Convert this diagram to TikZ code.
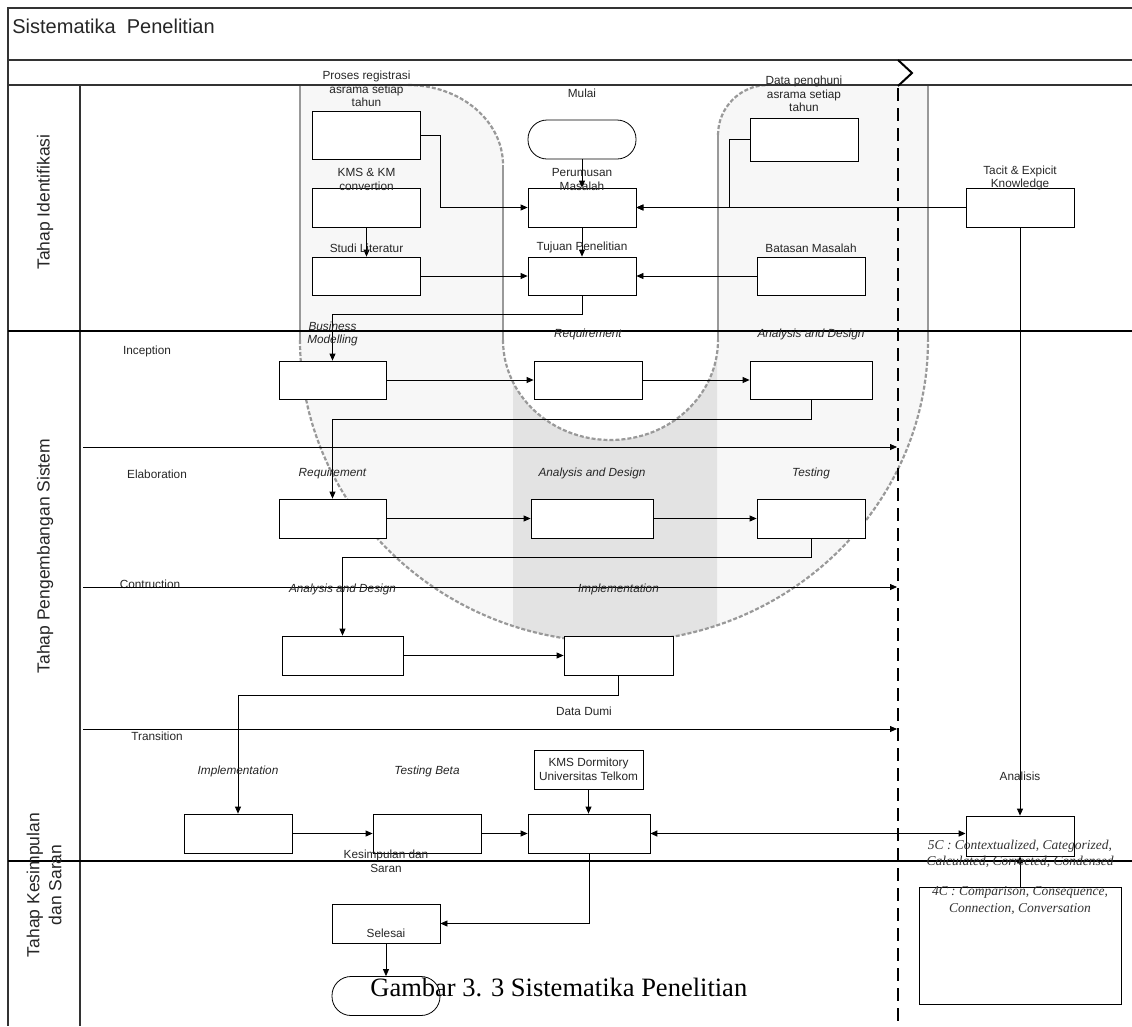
\documentclass[tikz,border=0pt]{standalone}
\usepackage{fontspec}
\setmainfont{Liberation Sans}
\newfontfamily\timesfont{Liberation Serif}
\usepackage{tikz}
\usetikzlibrary{arrows.meta,shapes,calc}
\usetikzlibrary{positioning}
\tikzset{
	task box/.style={rectangle,draw=black,line width=0.8pt,fill=white,minimum width=108pt,minimum height=39pt,inner sep=0pt},
	end state/.style={rectangle,rounded corners=19pt,draw=black,line width=0.8pt,fill=white,minimum width=108pt,minimum height=39pt,inner sep=0pt},
	}

\begin{document}
\begin{tikzpicture}[x=1pt,y=1pt,>={Triangle[length=7pt,width=6pt]},line width=0.8pt]
		
		\tikzstyle{every node}=[font=\fontsize{11.8}{13.5}\selectfont,text=black!85]
		\tikzstyle{step label}=[inner sep=0pt,align=center]
		\tikzstyle{phase label}=[inner sep=0pt,align=center,font=\fontsize{11.8}{13.5}\selectfont\itshape]
		\tikzstyle{lane label}=[inner sep=0pt,align=center,rotate=90,font=\fontsize{17.5}{22}\selectfont]
		\tikzstyle{note text}=[inner sep=0pt,align=center,text=black!80,font=\fontsize{13.5}{16.5}\selectfont\timesfont\itshape]
		\tikzstyle{flow}=[->,black]
		\tikzstyle{frame line}=[line width=1.3pt,black!80]
		\tikzstyle{lobe edge}=[line width=2.2pt,black!40]
		
		\useasboundingbox (0,0) rectangle (1132,-1026);
		
		% shaded lobes
		\fill[black!3] (300,-85) -- (300,-340) arc[start angle=180,end angle=360,x radius=314,y radius=302] -- (928,-85) -- cycle;
		\begin{scope}
			\clip (513,-340) rectangle (717,-660);
			\fill[black!11] (300,-85) -- (300,-340) arc[start angle=180,end angle=360,x radius=314,y radius=302] -- (928,-85) -- cycle;
		\end{scope}
		\fill[white] (408,-85) arc[start angle=90,end angle=0,x radius=95,y radius=80] -- (503,-340)
			arc[start angle=180,end angle=360,x radius=107.5,y radius=100] -- (718,-135)
			arc[start angle=180,end angle=90,x radius=50,y radius=50] -- cycle;
		\draw[lobe edge] (300,-85) -- (300,-340) (928,-85) -- (928,-340)
			(503,-165) -- (503,-340) (718,-135) -- (718,-340);
		\draw[lobe edge,dash pattern=on 4pt off 2pt]
			(300,-340) arc[start angle=180,end angle=360,x radius=314,y radius=302]
			(503,-340) arc[start angle=180,end angle=360,x radius=107.5,y radius=100]
			(408,-85) arc[start angle=90,end angle=0,x radius=95,y radius=80]
			(718,-135) arc[start angle=180,end angle=90,x radius=50,y radius=50];
		
		% frame and lanes
		\draw[frame line] (1132,-8) -- (8,-8) -- (8,-1026);
		\draw[frame line] (8,-60) -- (1132,-60) (8,-85) -- (1132,-85);
		\draw[frame line] (80,-85) -- (80,-1026);
		\draw[frame line,black] (8,-331) -- (1132,-331) (8,-861) -- (1132,-861);
		\draw[line width=2.6pt,dash pattern=on 13pt off 7pt] (898,-88) -- (898,-1026);
		\draw[line width=2pt] (898,-60) -- (912,-73) -- (898,-86);
		
		\node[anchor=west,inner sep=0pt,font=\fontsize{20}{22}\selectfont] (ttl) at (12,-26) {Sistematika~~Penelitian};
		\node[lane label] (ln1) at (45,-202) {Tahap Identifikasi};
		\node[lane label] (ln2) at (45,-556) {Tahap Pengembangan Sistem};
		\node[lane label] (ln3) at (44,-885) {Tahap Kesimpulan\\dan Saran};
		
		\node[step label] (inc) at (147,-351) {Inception};
		\node[step label] (ela) at (157,-474) {Elaboration};
		\node[step label] (con) at (150,-584) {Contruction};
		\node[step label] (tra) at (157,-736) {Transition};
		\node[step label] (dum) at (584,-711) {Data Dumi};
		
		\foreach \y/\n in {447/ela,587/con,729/tra}{
			\coordinate (\n-a) at (83,-\y);
			\coordinate (\n-b) at (897,-\y);
			\draw[flow] (\n-a) -- (\n-b);
		}
		
		\node[task box,minimum height=48pt] (prs) at (366.5,-135) {};
		\node[task box] (kms) at (366.5,-207.5) {};
		\node[task box,minimum height=38pt] (stu) at (366.5,-276) {};
		\node[end state] (mul) at (582,-139.5) {};
		\node[task box] (prm) at (582,-207.5) {};
		\node[task box,minimum height=38pt] (tuj) at (582,-276) {};
		\node[task box,minimum height=43pt] (dat) at (804,-139.5) {};
		\node[task box,minimum height=38pt] (bts) at (811,-276) {};
		\node[task box] (tac) at (1020,-207.5) {};
		
		\node[task box,minimum width=107pt,minimum height=38pt] (bmd) at (332.5,-380) {};
		\node[task box,minimum height=38pt] (rqi) at (588,-380) {};
		\node[task box,minimum width=122pt,minimum height=38pt] (adi) at (811,-380) {};
		\node[task box,minimum width=107pt] (rqe) at (332.5,-518.5) {};
		\node[task box,minimum width=122pt] (ade) at (592,-518.5) {};
		\node[task box] (tst) at (811,-518.5) {};
		\node[task box,minimum width=121pt] (adc) at (342.5,-655.5) {};
		\node[task box,minimum width=109pt] (imc) at (618.5,-655.5) {};
		\node[task box] (imt) at (238,-833.5) {};
		\node[task box] (tsb) at (427,-833.5) {};
		\node[task box,minimum width=109pt,align=center] (kmd) at (588.5,-769.5) {KMS Dormitory\\Universitas Telkom};
		\node[task box,minimum width=122pt] (fin) at (589,-833.5) {};
		\node[task box,minimum height=40pt] (ana) at (1020,-836) {};
		
		\node[task box] (sls) at (386,-923.5) {};
		\node[end state] (endt) at (386,-996) {};
		\node[task box,minimum width=202pt,minimum height=117pt] (cfr) at (1020,-945.5) {};
		
		\path
		(prs.east) edge[flow, to path={-- ++(19,0) |- (\tikztotarget)}] (prm.west)
		(kms) edge[flow] (stu)
		(stu) edge[flow] (tuj)
		(mul) edge[flow] (prm)
		(prm) edge[flow] (tuj)
		(dat.west) edge[flow, to path={-- ++(-20,0) |- (\tikztotarget)}] (prm.east)
		(tac) edge[flow] (prm)
		(bts) edge[flow] (tuj)
		(tuj.south) edge[flow, to path={-- ++(0,-19) -| (\tikztotarget)}] (bmd.north)
		(bmd) edge[flow] (rqi)
		(rqi) edge[flow] (adi)
		(adi.south) edge[flow, to path={-- ++(0,-20) -| (\tikztotarget)}] (rqe.north)
		(rqe) edge[flow] (ade)
		(ade) edge[flow] (tst)
		(tst.south) edge[flow, to path={-- ++(0,-19) -| (\tikztotarget)}] (adc.north)
		(adc) edge[flow] (imc)
		(imc.south) edge[flow, to path={-- ++(0,-20) -| (\tikztotarget)}] (imt.north)
		(imt) edge[flow] (tsb)
		(tsb) edge[flow] (fin)
		(kmd.south) edge[flow] (kmd.south |- fin.north)
		(fin.east) edge[<->,line width=1.5pt] (fin.east -| ana.west)
		(fin.south) edge[flow, to path={|- (\tikztotarget)}] (sls.east)
		(sls) edge[flow] (endt)
		(tac) edge[flow] (ana)
		(cfr) edge[flow] (ana);
		
		\node[step label,above=3.5pt of prs] (lprs) {Proses registrasi\\asrama setiap\\tahun};
		\node[step label,above=-3pt of kms] (lkms) {KMS \& KM\\convertion};
		\node[step label,above=3.3pt of stu] (lstu) {Studi Literatur};
		\node[step label,above=21.3pt of mul] (lmul) {Mulai};
		\node[step label,above=-3pt of prm] (lprm) {Perumusan\\Masalah};
		\node[step label,above=3.3pt of tuj] (ltuj) {Tujuan Penelitian};
		\node[step label,above=5.5pt of dat] (ldat) {Data penghuni\\asrama setiap\\tahun};
		\node[step label,above=3.3pt of bts] (lbts) {Batasan Masalah};
		\node[step label,above=-3pt of tac] (ltac) {Tacit \& Expicit\\Knowledge};
		\node[phase label,above=14pt of bmd] (lbmd) {Business\\Modelling};
		\node[phase label,above=20.3pt of rqi] (lrqi) {Requirement};
		\node[phase label,above=20.3pt of adi] (ladi) {Analysis and Design};
		\node[phase label,above=19.3pt of rqe] (lrqe) {Requirement};
		\node[phase label,above=19.3pt of ade] (lade) {Analysis and Design};
		\node[phase label,above=19.3pt of tst] (ltst) {Testing};
		\node[phase label,above=40.3pt of adc] (ladc) {Analysis and Design};
		\node[phase label,above=40.3pt of imc] (limc) {Implementation};
		\node[phase label,above=36.3pt of imt] (limt) {Implementation};
		\node[phase label,above=36.3pt of tsb] (ltsb) {Testing Beta};
		\node[step label,above=34.3pt of ana] (lana) {Analisis};
		\node[step label,above=31pt of sls] (lsls) {Kesimpulan dan\\Saran};
		\node[step label,above=38.3pt of endt] (lend) {Selesai};
		
		\node[note text] (c5) at ($(ana.south)+(0,2.5)$) {5C : Contextualized, Categorized,\\Calculated, Corrected, Condensed};
		\node[note text,below=0pt of cfr.north] (c4) {4C : Comparison, Consequence,\\Connection, Conversation};
		
		\node[anchor=west,inner sep=0pt,text=black,font=\fontsize{26.5}{30}\selectfont\timesfont] (cap) at (370,-987) {Gambar 3. 3 Sistematika Penelitian};
		
	\end{tikzpicture}
\end{document}
